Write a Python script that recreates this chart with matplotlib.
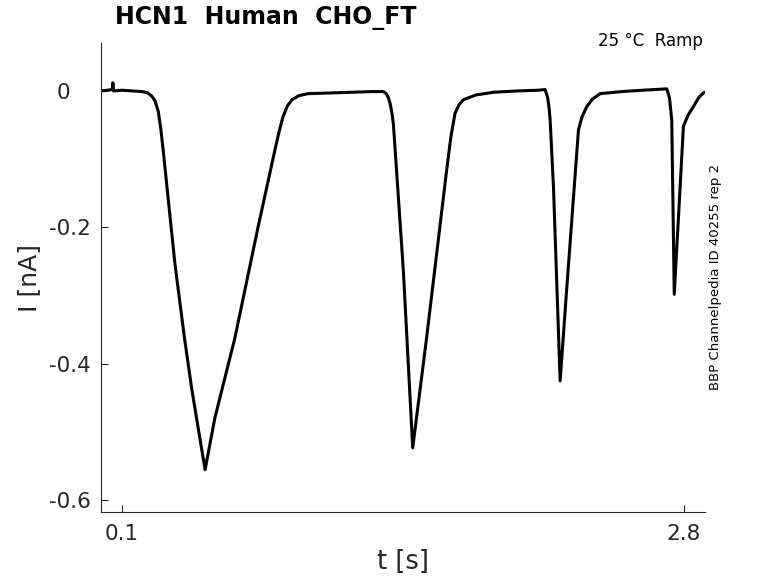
import matplotlib
import matplotlib.pyplot as plt

matplotlib.use("Agg")

# trace (t in s, current in nA)
t = [0.0, 0.03, 0.055, 0.057, 0.06, 0.10, 0.15, 0.20, 0.225, 0.245, 0.26,
     0.275, 0.287, 0.297, 0.32, 0.355, 0.40, 0.435, 0.47, 0.50, 0.547,
     0.643, 0.754, 0.835, 0.855, 0.874, 0.895, 0.917, 0.95, 0.994, 1.10,
     1.20, 1.30, 1.356, 1.370, 1.380, 1.388, 1.396, 1.404, 1.452, 1.497,
     1.564, 1.660, 1.680, 1.700, 1.720, 1.740, 1.800, 1.884, 2.00, 2.10,
     2.133, 2.145, 2.152, 2.157, 2.173, 2.205, 2.237, 2.293, 2.310, 2.333,
     2.360, 2.397, 2.50, 2.60, 2.717, 2.730, 2.741, 2.753, 2.797, 2.820,
     2.845, 2.870, 2.893, 2.90]
current = [0.000, 0.001, 0.002, 0.012, 0.000, 0.001, 0.000, -0.001, -0.003,
           -0.008, -0.015, -0.030, -0.055, -0.082, -0.150, -0.253, -0.360,
           -0.435, -0.500, -0.555, -0.479, -0.362, -0.200, -0.087, -0.060,
           -0.038, -0.022, -0.013, -0.007, -0.004, -0.003, -0.002, -0.001,
           -0.001, -0.004, -0.010, -0.018, -0.030, -0.048, -0.263, -0.523,
           -0.361, -0.116, -0.068, -0.033, -0.020, -0.013, -0.006, -0.002,
           0.000, 0.001, 0.002, -0.010, -0.025, -0.043, -0.141, -0.425,
           -0.288, -0.057, -0.038, -0.023, -0.012, -0.004, -0.001, 0.001,
           0.003, -0.010, -0.043, -0.298, -0.052, -0.035, -0.023, -0.010,
           -0.003, -0.002]

xticks = [0.1, 2.8]
xticklabels = ["0.1", "2.8"]
yticks = [-0.6, -0.4, -0.2, 0]
yticklabels = ["-0.6", "-0.4", "-0.2", "0   "]

grey = (0.15, 0.15, 0.15)

fig = plt.figure(figsize=(7.78, 5.83), dpi=100)
ax = fig.add_axes([0.1298, 0.1218, 0.7762, 0.8042])
ax.plot(t, current, color="black", lw=2.2, solid_joinstyle="round")

ax.set_xlim(0, 2.9)
ax.set_ylim(-0.617, 0.07)
ax.set_xticks(xticks)
ax.set_xticklabels(xticklabels)
ax.set_yticks(yticks)
ax.set_yticklabels(yticklabels)
ax.tick_params(direction="in", length=5, width=0.8, colors=grey,
               labelsize=15.5, pad=7)
ax.tick_params(axis="x", pad=9)
for side in ["top", "right"]:
    ax.spines[side].set_visible(False)
for side in ["left", "bottom"]:
    ax.spines[side].set_color(grey)
    ax.spines[side].set_linewidth(0.8)

ax.set_xlabel("t [s]", fontsize=18.5, color=grey, labelpad=3)
ax.set_ylabel("I [nA]", fontsize=18, color=grey, labelpad=6)

fig.text(115 / 778, 1 - 18 / 583, "HCN1  Human  CHO_FT", fontsize=17,
         fontweight="bold", ha="left", va="center")
fig.text(703 / 778, 1 - 41 / 583, "25 °C  Ramp", fontsize=12,
         ha="right", va="center")
fig.text(716 / 778, 1 - 277 / 583, "BBP Channelpedia ID 40255 rep 2",
         fontsize=9.5, rotation=90, ha="center", va="center")

fig.savefig("out.png", dpi=100)
